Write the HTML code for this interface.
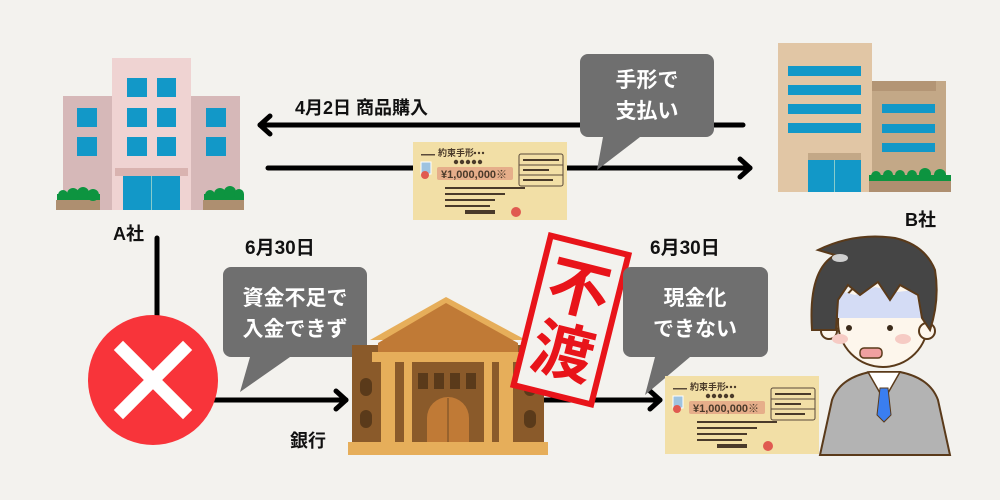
<!DOCTYPE html>
<html><head><meta charset="utf-8"><style>
html,body{margin:0;padding:0;background:#f3f2ee;}
svg{display:block}
text{font-family:"Liberation Sans","Noto Sans CJK JP",sans-serif;font-weight:bold}
</style></head><body>
<svg width="1000" height="500" viewBox="0 0 1000 500" xmlns="http://www.w3.org/2000/svg">
<rect width="1000" height="500" fill="#f3f2ee"/>
<defs>
<g id="check">
 <rect x="0" y="0" width="154" height="78" fill="#f2dfa6"/>
 <rect x="8" y="12" width="14" height="1.5" fill="#5a4a3a"/>
 <text x="25" y="14" font-size="9" fill="#4a3a2a">約束手形</text>
 <g fill="#4a3a2a"><circle cx="62" cy="11" r="1.2"/><circle cx="66" cy="11" r="1.2"/><circle cx="70" cy="11" r="1.2"/></g>
 <rect x="8" y="20" width="10" height="12" fill="#9ec3e0" stroke="#fff" stroke-width="1"/>
 <circle cx="12" cy="33" r="4" fill="#e05a50"/>
 <g fill="#4a3a2a"><circle cx="43" cy="20" r="2.2"/><circle cx="49" cy="20" r="2.2"/><circle cx="55" cy="20" r="2.2"/><circle cx="61" cy="20" r="2.2"/><circle cx="67" cy="20" r="2.2"/></g>
 <rect x="24" y="25" width="76" height="13" rx="2" fill="#e6ae8a"/>
 <text x="28" y="36" font-size="11" fill="#4a3a2a">¥1,000,000※</text>
 <rect x="106" y="12" width="44" height="32" rx="2" fill="none" stroke="#5a4a3a" stroke-width="1"/>
 <line x1="106" y1="23" x2="150" y2="23" stroke="#5a4a3a" stroke-width="1"/>
 <line x1="106" y1="33" x2="150" y2="33" stroke="#5a4a3a" stroke-width="1"/>
 <g fill="#4a3a2a"><rect x="110" y="17" width="36" height="2"/><rect x="110" y="27" width="26" height="2"/><rect x="110" y="37" width="30" height="2"/>
 <rect x="32" y="45" width="80" height="2"/><rect x="32" y="51" width="60" height="2"/><rect x="32" y="57" width="50" height="2"/><rect x="32" y="63" width="45" height="2"/>
 <rect x="52" y="68" width="30" height="4"/></g>
 <circle cx="103" cy="70" r="5" fill="#e05a50"/>
</g>
</defs>
<!-- A building -->
<rect x="63" y="96" width="49" height="114" fill="#d6b8b8"/>
<rect x="191" y="96" width="49" height="114" fill="#d6b8b8"/>
<rect x="112" y="58" width="79" height="152" fill="#efd3d2"/>
<g fill="#1298c8">
<rect x="127" y="78" width="20" height="19"/><rect x="157" y="78" width="19" height="19"/>
<rect x="127" y="108" width="20" height="19"/><rect x="157" y="108" width="19" height="19"/>
<rect x="127" y="137" width="20" height="19"/><rect x="157" y="137" width="19" height="19"/>
<rect x="77" y="108" width="20" height="19"/><rect x="77" y="137" width="20" height="19"/>
<rect x="206" y="108" width="20" height="19"/><rect x="206" y="137" width="20" height="19"/>
<rect x="123" y="176" width="57" height="34"/>
</g>
<rect x="115" y="168" width="73" height="8" fill="#d9b3b0"/>
<rect x="151" y="176" width="1" height="34" fill="#8cc"/>
<rect x="56" y="200" width="44" height="10" fill="#ae8f70"/>
<rect x="203" y="200" width="41" height="10" fill="#ae8f70"/>
<g fill="#0d9440"><rect x="57" y="194" width="43" height="6"/><circle cx="63" cy="195" r="5"/><circle cx="73" cy="194" r="6"/><circle cx="83" cy="193" r="6"/><circle cx="93" cy="195" r="6"/>
<rect x="204" y="194" width="40" height="6"/><circle cx="210" cy="195" r="5"/><circle cx="220" cy="194" r="6"/><circle cx="230" cy="192" r="6"/><circle cx="239" cy="194" r="5"/></g>
<!-- B building -->
<rect x="778" y="43" width="94" height="149" fill="#e1c6a5"/>
<rect x="872" y="81" width="74" height="111" fill="#c3a887"/>
<rect x="872" y="81" width="64" height="10" fill="#b39575"/>
<g fill="#1298c8">
<rect x="788" y="66" width="73" height="10"/><rect x="788" y="85" width="73" height="10"/><rect x="788" y="104" width="73" height="10"/><rect x="788" y="123" width="73" height="10"/>
<rect x="882" y="104" width="53" height="9"/><rect x="882" y="124" width="53" height="9"/><rect x="882" y="143" width="53" height="9"/>
<rect x="808" y="160" width="53" height="32"/>
</g>
<rect x="808" y="153" width="53" height="7" fill="#c3a887"/>
<rect x="834" y="160" width="1" height="32" fill="#8cc"/>
<rect x="869" y="181" width="82" height="11" fill="#ae8f70"/>
<g fill="#0d9440"><rect x="869" y="175" width="82" height="6"/><circle cx="876" cy="176" r="5"/><circle cx="888" cy="175" r="5"/><circle cx="900" cy="175" r="5"/><circle cx="912" cy="175" r="5"/><circle cx="925" cy="174" r="6"/><circle cx="940" cy="175" r="6"/></g>
<!-- arrows -->
<g stroke="#000" stroke-width="5" fill="none" stroke-linecap="round" stroke-linejoin="round">
<line x1="743" y1="125" x2="260" y2="125"/><polyline points="270,116 260,125 270,134"/>
<line x1="268" y1="168" x2="750" y2="168"/><polyline points="740,159 750,168 740,177"/>
<line x1="157" y1="238" x2="157" y2="330"/>
<line x1="210" y1="400" x2="346" y2="400"/><polyline points="336,391 346,400 336,409"/>
<line x1="540" y1="400" x2="660" y2="400"/><polyline points="650,391 660,400 650,409"/>
</g>
<text x="295" y="114" font-size="18" fill="#111">4月2日 商品購入</text>
<use href="#check" x="413" y="142"/>
<!-- bubble 1 -->
<path d="M588,54 H706 A8,8 0 0 1 714,62 V129 A8,8 0 0 1 706,137 H640 L597,170 L603,137 H588 A8,8 0 0 1 580,129 V62 A8,8 0 0 1 588,54Z" fill="#6f6f6f"/>
<text x="647" y="87" font-size="21" fill="#fff" text-anchor="middle">手形で</text>
<text x="647" y="118" font-size="21" fill="#fff" text-anchor="middle">支払い</text>
<text x="113" y="240" font-size="18" fill="#111">A社</text>
<text x="905" y="226" font-size="18" fill="#111">B社</text>
<!-- X circle -->
<circle cx="153" cy="380" r="65" fill="#f8343a"/>
<g stroke="#fff" stroke-width="13" stroke-linecap="square"><line x1="123" y1="350" x2="183" y2="410"/><line x1="183" y1="350" x2="123" y2="410"/></g>
<!-- bubble 2 -->
<text x="245" y="254" font-size="19" fill="#111">6月30日</text>
<path d="M231,267 H359 A8,8 0 0 1 367,275 V349 A8,8 0 0 1 359,357 H290 L240,392 L250,357 H231 A8,8 0 0 1 223,349 V275 A8,8 0 0 1 231,267Z" fill="#6f6f6f"/>
<text x="295" y="305" font-size="21" fill="#fff" text-anchor="middle">資金不足で</text>
<text x="295" y="336" font-size="21" fill="#fff" text-anchor="middle">入金できず</text>
<text x="290" y="447" font-size="18" fill="#111">銀行</text>
<!-- bank -->
<rect x="352" y="345" width="192" height="100" fill="#8a5a2a"/>
<polygon points="370,340 446,297 526,340" fill="#e6ae5a"/>
<polygon points="378,343 446,303 518,343 518,353 378,353" fill="#c07a36"/>
<rect x="372" y="352" width="150" height="10" fill="#e6ae5a"/>
<g fill="#e6ae5a"><rect x="381" y="362" width="14" height="80"/><rect x="404" y="362" width="8" height="80"/><rect x="484" y="362" width="8" height="80"/><rect x="499" y="362" width="14" height="80"/></g>
<path d="M427,442 V418 A21,21 0 0 1 469,418 V442Z" fill="#c07a36"/>
<line x1="448" y1="398" x2="448" y2="442" stroke="#8a5a2a" stroke-width="1.5"/>
<g fill="#5a3a1a"><rect x="418" y="373" width="10" height="16"/><rect x="434" y="373" width="10" height="16"/><rect x="450" y="373" width="10" height="16"/><rect x="466" y="373" width="10" height="16"/>
<rect x="360" y="378" width="12" height="18" rx="6"/><rect x="360" y="410" width="12" height="18" rx="6"/><rect x="524" y="378" width="12" height="18" rx="6"/><rect x="524" y="410" width="12" height="18" rx="6"/></g>
<rect x="348" y="442" width="200" height="13" fill="#e6ae5a"/>
<!-- stamp -->
<g transform="translate(571,320) rotate(14)">
<rect x="-40" y="-77" width="80" height="154" fill="#f3f2ee" stroke="#e8141a" stroke-width="6"/>
<text x="0" y="-10" font-size="62" fill="#e8141a" text-anchor="middle" font-family="'Noto Serif CJK SC',serif">不</text>
<text x="0" y="55" font-size="62" fill="#e8141a" text-anchor="middle" font-family="'Noto Serif CJK SC',serif">渡</text>
</g>
<!-- bubble 3 -->
<text x="650" y="254" font-size="19" fill="#111">6月30日</text>
<path d="M631,267 H760 A8,8 0 0 1 768,275 V349 A8,8 0 0 1 760,357 H690 L645,395 L655,357 H631 A8,8 0 0 1 623,349 V275 A8,8 0 0 1 631,267Z" fill="#6f6f6f"/>
<text x="695" y="305" font-size="21" fill="#fff" text-anchor="middle">現金化</text>
<text x="695" y="336" font-size="21" fill="#fff" text-anchor="middle">できない</text>
<use href="#check" x="665" y="376"/>
<!-- person -->
<path d="M820,455 L832,400 Q840,378 870,372 L900,372 Q930,378 938,400 L950,455Z" fill="#b3b3b3" stroke="#5a3a1a" stroke-width="2"/>
<polygon points="868,372 900,372 884,400" fill="#fff" stroke="#5a3a1a" stroke-width="1.5"/>
<polygon points="880,388 888,388 891,415 884,422 877,415" fill="#3a7ef0" stroke="#5a3a1a" stroke-width="1"/>
<ellipse cx="883" cy="322" rx="45" ry="45" fill="#fdf6ec" stroke="#5a3a1a" stroke-width="2"/>
<circle cx="829" cy="331" r="8" fill="#fdf6ec" stroke="#5a3a1a" stroke-width="2"/>
<circle cx="927" cy="331" r="8" fill="#fdf6ec" stroke="#5a3a1a" stroke-width="2"/>
<path d="M838,318 L836,290 L855,295 L875,287 L897,292 L915,290 L922,318Z" fill="#d4dcf5"/>
<path d="M812,330 Q808,270 835,255 L818,250 Q855,232 895,238 Q925,245 935,270 Q940,300 930,330 L922,318 L918,295 L900,285 L890,300 L878,282 L860,295 L848,285 L838,300 L836,330Z" fill="#454545" stroke="#5a3a1a" stroke-width="2"/>
<ellipse cx="840" cy="258" rx="8" ry="4" fill="#d0d0d0"/>
<circle cx="849" cy="328" r="3" fill="#3a2a1a"/><circle cx="890" cy="328" r="3" fill="#3a2a1a"/>
<ellipse cx="840" cy="339" rx="8" ry="5" fill="#f6cbc4"/><ellipse cx="903" cy="339" rx="8" ry="5" fill="#f6cbc4"/>
<rect x="860" y="348" width="22" height="10" rx="4" fill="#f0a0a0" stroke="#5a3a1a" stroke-width="1.5"/>
</svg>
</body></html>
